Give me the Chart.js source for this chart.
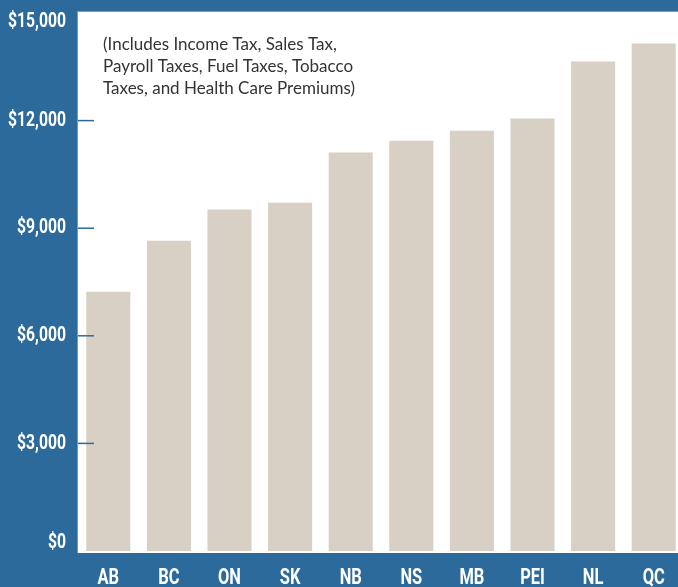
<!DOCTYPE html>
<html>
<head>
<meta charset="utf-8">
<script src="https://cdn.jsdelivr.net/npm/chart.js@4"></script>
<style>
  html, body { margin: 0; padding: 0; background: #2d6a9c; overflow: hidden; }
  #wrap { width: 684px; height: 587px; }
</style>
</head>
<body>
<div id="wrap"><canvas id="bar-chart" width="684" height="587"></canvas></div>
<script>
const provinces = ["AB", "BC", "ON", "SK", "NB", "NS", "MB", "PEI", "NL", "QC"];
const totalTaxes = [7230, 8650, 9520, 9710, 11110, 11440, 11720, 12060, 13650, 14150];
const yTicks = [0, 3000, 6000, 9000, 12000, 15000];
const noteLines = [
    "(Includes Income Tax, Sales Tax,",
    "Payroll Taxes, Fuel Taxes, Tobacco",
    "Taxes, and Health Care Premiums)"
];

const blue = "#2d6a9c";
const labelFont = "bold 21px Roboto, 'DejaVu Sans', sans-serif";
const xFont = "bold 22px Roboto, 'DejaVu Sans', sans-serif";

// condensed text: squeeze horizontally
function narrowText(ctx, text, x, y, k, align) {
    ctx.save();
    ctx.translate(x, y);
    ctx.scale(k, 1);
    ctx.textAlign = align;
    ctx.fillText(text, 0, 0);
    ctx.restore();
}

// white panel, tick marks, labels and the note
const panel = {
    id: "panel",
    beforeDatasetsDraw(chart) {
        const ctx = chart.ctx;
        const a = chart.chartArea;
        ctx.save();
        ctx.fillStyle = "#ffffff";
        ctx.fillRect(a.left, 12, chart.width - a.left, 553 - 12);
        ctx.fillStyle = "#6f9cc7";
        ctx.fillRect(a.left - 1, 11, 1, 553 - 11);
        ctx.fillRect(a.left, 11, chart.width - a.left, 1);
        ctx.restore();
    },
    afterDatasetsDraw(chart) {
        const ctx = chart.ctx;
        const a = chart.chartArea;
        const y = chart.scales.y;
        const x = chart.scales.x;
        ctx.save();
        ctx.strokeStyle = blue;
        ctx.lineWidth = 1.5;
        ctx.fillStyle = "#ffffff";
        ctx.textBaseline = "middle";
        ctx.font = labelFont;
        const k = 58 / ctx.measureText("$15,000").width;
        for (const v of yTicks) {
            const py = y.getPixelForValue(v);
            if (v > 0 && v < 15000) {
                ctx.beginPath();
                ctx.moveTo(a.left, py);
                ctx.lineTo(a.left + 16, py);
                ctx.stroke();
            }
            const ly = Math.min(Math.max(py, 22), 543);
            narrowText(ctx, "$" + v.toLocaleString("en-US"), 66, ly, k, "right");
        }
        ctx.font = xFont;
        provinces.forEach((p, i) => {
            narrowText(ctx, p, x.getPixelForValue(i), 578, k, "center");
        });
        ctx.fillStyle = "#333333";
        ctx.font = "17px Lato, 'Open Sans', sans-serif";
        ctx.textAlign = "left";
        noteLines.forEach((t, i) => ctx.fillText(t, 103, 45 + i * 22));
        ctx.restore();
    }
};

new Chart(document.getElementById("bar-chart"), {
    type: "bar",
    data: {
        labels: provinces,
        datasets: [
            {
                label: "Total taxes",
                data: totalTaxes,
                backgroundColor: "#d8d0c4",
                borderWidth: 0,
                barPercentage: 0.727,
                categoryPercentage: 1
            }
        ]
    },
    options: {
        responsive: false,
        animation: false,
        layout: { padding: { top: 13, left: 0, right: 0, bottom: 0 } },
        plugins: { legend: { display: false }, tooltip: { enabled: false } },
        scales: {
            x: {
                grid: { display: false, drawTicks: false },
                border: { display: false },
                ticks: { display: false },
                afterFit(s) { s.height = 36; }
            },
            y: {
                min: 0,
                max: 15000,
                grid: { display: false, drawTicks: false },
                border: { display: false },
                ticks: { display: false, stepSize: 3000 },
                afterFit(s) { s.width = 78; }
            }
        }
    },
    plugins: [panel]
});
</script>
</body>
</html>
